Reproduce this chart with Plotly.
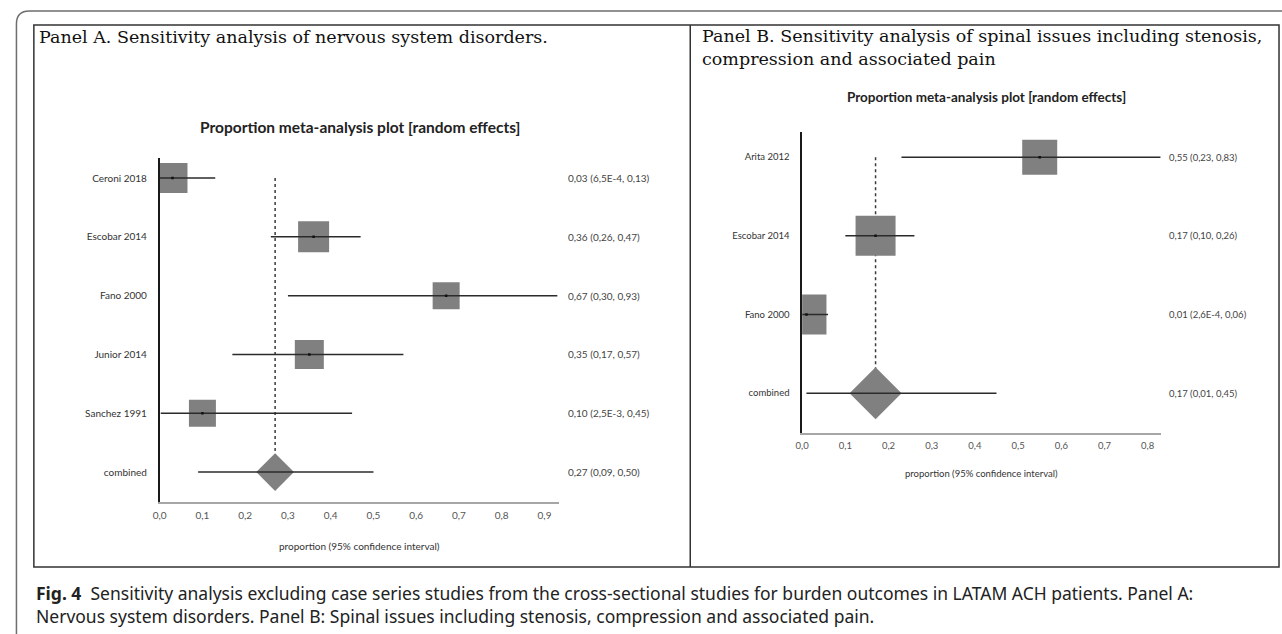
import plotly.graph_objects as go

# ---- Panel A: nervous system disorders ----
studies_a = ["Ceroni 2018", "Escobar 2014", "Fano 2000", "Junior 2014", "Sanchez 1991"]
prop_a = [0.03, 0.36, 0.67, 0.35, 0.10]
lo_a = [6.5e-4, 0.26, 0.30, 0.17, 2.5e-3]
hi_a = [0.13, 0.47, 0.93, 0.57, 0.45]
pooled_a = [0.27, 0.09, 0.50]          # estimate, lower, upper

# ---- Panel B: spinal issues ----
studies_b = ["Arita 2012", "Escobar 2014", "Fano 2000"]
prop_b = [0.55, 0.17, 0.01]
lo_b = [0.23, 0.10, 2.6e-4]
hi_b = [0.83, 0.26, 0.06]
pooled_b = [0.17, 0.01, 0.45]

ticks_a = [0.0, 0.1, 0.2, 0.3, 0.4, 0.5, 0.6, 0.7, 0.8, 0.9]
ticks_b = [0.0, 0.1, 0.2, 0.3, 0.4, 0.5, 0.6, 0.7, 0.8]

W, H = 1282, 634


def px(x):
    return x / W


def py(y):
    return 1 - y / H


def fmt(v):
    if v < 0.01:
        m, e = f"{v:.1E}".split("E")
        return f"{m}E{int(e)}".replace(".", ",")
    return f"{v:.2f}".replace(".", ",")


def ci_text(p, lo, hi):
    return f"{fmt(p)} ({fmt(lo)}, {fmt(hi)})"


SMALL = "Lato, 'Open Sans', sans-serif"
SERIF = "'DejaVu Serif', serif"
BOX = "#808080"
LINE = "#2b2b2b"

fig = go.Figure()


def add_panel(fig, xr, yr, studies, prop, lo, hi, pooled, box_px, diamond_px,
              label_x, small):
    n = len(studies)
    rows = [n - i for i in range(n)]          # first study sits on the top row
    # pooled estimate reference line
    fig.add_trace(go.Scatter(x=[pooled[0], pooled[0]], y=[rows[0], 0], mode="lines",
                             line=dict(color="#3a3a3a", width=1.5, dash="dot"),
                             xaxis=xr, yaxis=yr, hoverinfo="skip", showlegend=False))
    # study boxes
    fig.add_trace(go.Scatter(x=prop, y=rows, mode="markers",
                             marker=dict(symbol="square", size=box_px, color=BOX,
                                         opacity=1, line=dict(width=0)),
                             xaxis=xr, yaxis=yr, hoverinfo="skip", showlegend=False))
    # pooled diamond
    fig.add_trace(go.Scatter(x=[pooled[0]], y=[0], mode="markers",
                             marker=dict(symbol="diamond", size=diamond_px, color=BOX,
                                         opacity=1, line=dict(width=0)),
                             xaxis=xr, yaxis=yr, hoverinfo="skip", showlegend=False))
    # confidence intervals
    xs, ys = [], []
    for p_lo, p_hi, r in zip(lo + [pooled[1]], hi + [pooled[2]], rows + [0]):
        xs += [p_lo, p_hi, None]
        ys += [r, r, None]
    fig.add_trace(go.Scatter(x=xs, y=ys, mode="lines", line=dict(color=LINE, width=1.5),
                             xaxis=xr, yaxis=yr, hoverinfo="skip", showlegend=False))
    # centre points
    fig.add_trace(go.Scatter(x=prop, y=rows, mode="markers",
                             marker=dict(symbol="square", size=2.5, color="#111"),
                             xaxis=xr, yaxis=yr, hoverinfo="skip", showlegend=False))
    # value labels on the right
    labels = [ci_text(p, a, b) for p, a, b in zip(prop, lo, hi)] + [ci_text(*pooled)]
    for t, r in zip(labels, rows + [0]):
        fig.add_annotation(x=px(label_x), xref="paper", y=r, yref=yr, text=t,
                           showarrow=False, xanchor="left", yanchor="middle",
                           font=dict(family=SMALL, size=small, color="#444"))
    return rows


rows_a = add_panel(fig, "x", "y", studies_a, prop_a, lo_a, hi_a, pooled_a,
                   [30, 31, 27, 29, 27], 29, 562, 10)
rows_b = add_panel(fig, "x2", "y2", studies_b, prop_b, lo_b, hi_b, pooled_b,
                   [35, 40, 40], 40, 1166, 9.5)


def xaxis_style(size):
    return dict(showline=True, linecolor="#a6a6a6", linewidth=2, showgrid=False,
                zeroline=False, ticks="", tickformat=".1f", ticklabelstandoff=3,
                tickfont=dict(family=SMALL, size=size, color="#555"))


def yaxis_style(size):
    return dict(showline=True, linecolor="#1a1a1a", linewidth=1.5, showgrid=False,
                zeroline=False, ticks="", ticklabelstandoff=9,
                tickfont=dict(family=SMALL, size=size, color="#333"))


fig.update_layout(
    width=W, height=H, margin=dict(l=0, r=0, t=0, b=0),
    paper_bgcolor="white", plot_bgcolor="white", separators=",.",
    xaxis=dict(domain=[px(153.5), px(555.5)], range=[0, 0.935], tickvals=ticks_a,
               anchor="y", **xaxis_style(10)),
    yaxis=dict(domain=[py(501.5), py(158)], range=[-0.5, 5.34], anchor="x",
               tickvals=rows_a + [0], ticktext=studies_a + ["combined"], **yaxis_style(10)),
    xaxis2=dict(domain=[px(799.5), px(1160)], range=[0, 0.83], tickvals=ticks_b,
                anchor="y2", **xaxis_style(9.5)),
    yaxis2=dict(domain=[py(432.5), py(132)], range=[-0.5, 3.32], anchor="x2",
                tickvals=rows_b + [0], ticktext=studies_b + ["combined"],
                **yaxis_style(9.5)),
)

# axis titles and plot titles
for cx, cy, s in [(354.5, 546, 10), (980, 473, 9.5)]:
    fig.add_annotation(x=px(cx), y=py(cy), xref="paper", yref="paper",
                       text="proportion (95% confidence interval)", showarrow=False,
                       xanchor="center", yanchor="middle",
                       font=dict(family=SMALL, size=s, color="#333"))
for cx, cy, s in [(354.5, 127, 15.5), (985, 97, 13.5)]:
    fig.add_annotation(x=px(cx), y=py(cy), xref="paper", yref="paper",
                       text="<b>Proportion meta-analysis plot [random effects]</b>",
                       showarrow=False, xanchor="center", yanchor="middle",
                       font=dict(family=SMALL, size=s, color="#222"))

# panel headings
heading = dict(family=SERIF, size=17.5, color="#111")
fig.add_annotation(x=px(30), y=py(37), xref="paper", yref="paper",
                   text="Panel A. Sensitivity analysis of nervous system disorders.",
                   showarrow=False, xanchor="left", yanchor="middle", font=heading)
fig.add_annotation(x=px(697), y=py(48), xref="paper", yref="paper",
                   text="Panel B. Sensitivity analysis of spinal issues including stenosis,"
                        "<br>compression and associated pain",
                   showarrow=False, xanchor="left", yanchor="middle", align="left",
                   font=heading)

# figure caption
fig.add_annotation(x=px(27), y=py(604), xref="paper", yref="paper",
                   text="<b>Fig. 4</b>  Sensitivity analysis excluding case series studies from the "
                        "cross-sectional studies for burden outcomes in LATAM ACH patients. Panel A:"
                        "<br>Nervous system disorders. Panel B: Spinal issues including stenosis, "
                        "compression and associated pain.",
                   showarrow=False, xanchor="left", yanchor="middle", align="left",
                   font=dict(family="'Noto Sans', sans-serif", size=17.5, color="#222"))

# frames
r = 13
outer = (f"M {px(9.5)},{py(634)} L {px(9.5)},{py(11 + r)} "
         f"Q {px(9.5)},{py(11)} {px(9.5 + r)},{py(11)} L {px(1282)},{py(11)}")
fig.add_shape(type="path", path=outer, xref="paper", yref="paper",
              line=dict(color="#6e6e6e", width=1.5))
fig.add_shape(type="rect", x0=px(27), x1=px(1279), y0=py(567), y1=py(25),
              xref="paper", yref="paper", line=dict(color="#333", width=1.5))
fig.add_shape(type="line", x0=px(687), x1=px(687), y0=py(567), y1=py(25),
              xref="paper", yref="paper", line=dict(color="#333", width=1.5))

fig.write_html("out.html")
